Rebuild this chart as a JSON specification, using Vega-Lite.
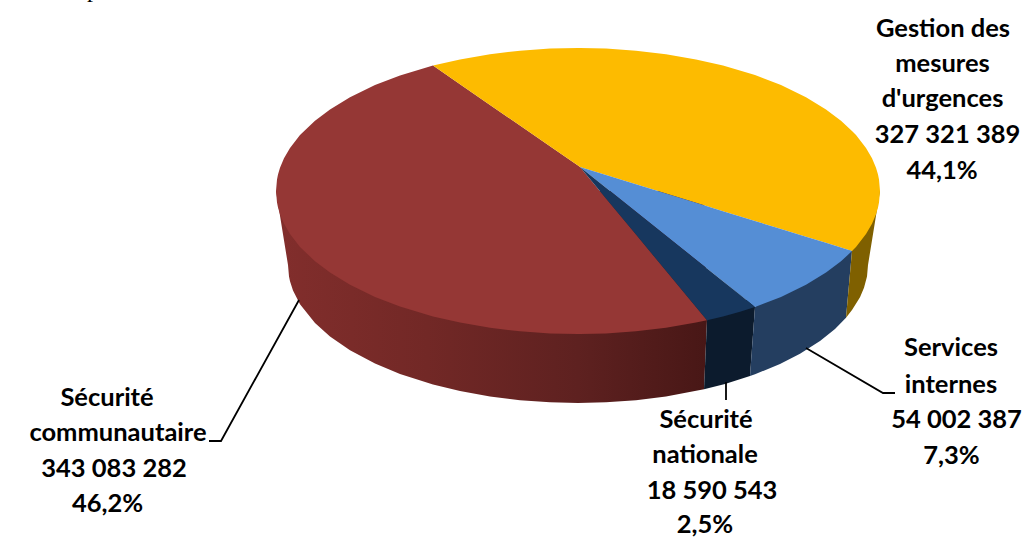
{"$schema":"https://vega.github.io/schema/vega-lite/v6.json","autosize":{"type":"none"},"padding":0,"width":1026,"height":538,"background":"white","view":{"stroke":null},
"datasets":{
"redSide":[{"x":276,"y":191,"y2":191},{"x":288,"y":191,"y2":265},{"x":289,"y":191,"y2":276.4},{"x":290,"y":191,"y2":281.2},{"x":293,"y":191,"y2":290.5},{"x":300,"y":191,"y2":304.3},{"x":315,"y":191,"y2":323.1},{"x":330,"y":191,"y2":336.5},{"x":350,"y":191,"y2":350.3},{"x":375,"y":191,"y2":363.5},{"x":400,"y":191,"y2":373.9},{"x":433,"y":191,"y2":384.5},{"x":460,"y":191,"y2":391},{"x":490,"y":191,"y2":396.5},{"x":520,"y":191,"y2":400.2},{"x":550,"y":191,"y2":402.3},{"x":578,"y":191,"y2":403},{"x":606,"y":191,"y2":402.3},{"x":636,"y":191,"y2":400.2},{"x":666,"y":191,"y2":396.5},{"x":704,"y":191,"y2":389.3},{"x":707,"y":320,"y2":320}],
"navySide":[{"x":704,"y":389.3,"y2":389.3},{"x":707,"y":320.3,"y2":388.6},{"x":725,"y":300,"y2":384},{"x":750,"y":300,"y2":376},{"x":755,"y":306.9,"y2":306.9}],
"blueSide":[{"x":750,"y":376,"y2":376},{"x":755,"y":306.9,"y2":374.3},{"x":780,"y":280,"y2":363.9},{"x":800,"y":270,"y2":353.8},{"x":820,"y":260,"y2":341},{"x":835,"y":255,"y2":328.9},{"x":846,"y":250,"y2":317.7},{"x":852,"y":251,"y2":251}],
"yellowSide":[{"x":846,"y":317.7,"y2":317.7},{"x":852,"y":251,"y2":310},{"x":860,"y":200,"y2":297.3},{"x":864,"y":191,"y2":287.8},{"x":867,"y":191,"y2":276.4},{"x":868,"y":191,"y2":265},{"x":880,"y":191,"y2":191}],
"redTop":[{"x":276,"y":191,"y2":191},{"x":277,"y":179.4,"y2":202.6},{"x":278,"y":174.6,"y2":207.4},{"x":280,"y":167.8,"y2":214.2},{"x":284,"y":158.3,"y2":223.7},{"x":290,"y":148,"y2":234},{"x":300,"y":135.1,"y2":246.9},{"x":315,"y":120.7,"y2":261.3},{"x":330,"y":109.4,"y2":272.6},{"x":350,"y":97.2,"y2":284.8},{"x":375,"y":85.1,"y2":296.9},{"x":400,"y":75.5,"y2":306.5},{"x":433,"y":65.6,"y2":316.4},{"x":460,"y":84.2,"y2":322.6},{"x":490,"y":104.9,"y2":327.8},{"x":520,"y":125.6,"y2":331.3},{"x":550,"y":146.3,"y2":333.4},{"x":578,"y":165.6,"y2":334},{"x":580,"y":167,"y2":334},{"x":606,"y":198.4,"y2":333.4},{"x":636,"y":234.6,"y2":331.3},{"x":666,"y":270.8,"y2":327.8},{"x":696,"y":307,"y2":322.6},{"x":707,"y":320.3,"y2":320.3}],
"yellowTop":[{"x":433,"y":65.6,"y2":65.6},{"x":460,"y":59.4,"y2":84.2},{"x":490,"y":54.2,"y2":104.9},{"x":520,"y":50.7,"y2":125.6},{"x":550,"y":48.6,"y2":146.3},{"x":578,"y":48,"y2":165.6},{"x":580,"y":48,"y2":167},{"x":606,"y":48.6,"y2":175},{"x":636,"y":50.7,"y2":184.3},{"x":666,"y":54.2,"y2":193.6},{"x":696,"y":59.4,"y2":202.8},{"x":723,"y":65.6,"y2":211.2},{"x":755,"y":75.1,"y2":221},{"x":781,"y":85.1,"y2":229},{"x":806,"y":97.2,"y2":236.7},{"x":826,"y":109.4,"y2":242.8},{"x":841,"y":120.7,"y2":247.6},{"x":852,"y":130.9,"y2":251.1},{"x":856,"y":135.1,"y2":246.9},{"x":866,"y":148,"y2":234},{"x":872,"y":158.3,"y2":223.7},{"x":876,"y":167.8,"y2":214.2},{"x":878,"y":174.6,"y2":207.4},{"x":879,"y":179.4,"y2":202.6},{"x":880,"y":191,"y2":191}],
"blueTop":[{"x":580,"y":167,"y2":167},{"x":606,"y":175,"y2":187.8},{"x":636,"y":184.3,"y2":211.7},{"x":666,"y":193.6,"y2":235.7},{"x":696,"y":202.8,"y2":259.7},{"x":723,"y":211.2,"y2":281.3},{"x":755,"y":221,"y2":306.9},{"x":781,"y":229,"y2":296.9},{"x":806,"y":236.7,"y2":284.8},{"x":826,"y":242.8,"y2":272.6},{"x":841,"y":247.6,"y2":261.3},{"x":852,"y":251.1,"y2":251.1}],
"navyTop":[{"x":580,"y":167,"y2":167},{"x":606,"y":187.8,"y2":198.4},{"x":636,"y":211.7,"y2":234.6},{"x":666,"y":235.7,"y2":270.8},{"x":696,"y":259.7,"y2":307},{"x":707,"y":268.5,"y2":320.3},{"x":723,"y":281.3,"y2":316.4},{"x":740,"y":294.8,"y2":311.7},{"x":755,"y":306.9,"y2":306.9}],
"leaders":[{"leader":"a","o":1,"x":299,"y":300},{"leader":"a","o":2,"x":221,"y":441},{"leader":"a","o":3,"x":209,"y":441},{"leader":"b","o":1,"x":806,"y":348},{"leader":"b","o":2,"x":883,"y":393},{"leader":"b","o":3,"x":895,"y":393},{"leader":"c","o":1,"x":726,"y":382},{"leader":"c","o":2,"x":726,"y":400}],
"labels":[{"t":"Gestion des","x":943,"y":37},{"t":"mesures","x":942.5,"y":72},{"t":"d'urgences","x":942.5,"y":107},{"t":"327 321 389","x":947.5,"y":143},{"t":"44,1%","x":942,"y":179},{"t":"Services","x":951,"y":356},{"t":"internes","x":951,"y":393},{"t":"54 002 387","x":956.5,"y":428},{"t":"7,3%","x":951.5,"y":464},{"t":"Sécurité","x":107,"y":406},{"t":"communautaire","x":118,"y":441},{"t":"343 083 282","x":114,"y":477},{"t":"46,2%","x":107.5,"y":512},{"t":"Sécurité","x":706,"y":428},{"t":"nationale","x":705,"y":463},{"t":"18 590 543","x":712,"y":499},{"t":"2,5%","x":705,"y":533}],
"clipped":[{"t":"p","x":93,"y":-3}]
},
"encoding":{"x":{"field":"x","type":"quantitative","scale":{"domain":[0,1026],"nice":false,"zero":false},"axis":null},"y":{"field":"y","type":"quantitative","scale":{"domain":[538,0],"nice":false,"zero":false},"axis":null}},
"layer":[
{"data":{"name":"redSide"},"mark":{"type":"area","fill":{"gradient":"linear","x1":0,"y1":0,"x2":1,"y2":0,"stops":[{"offset":0,"color":"#822e2c"},{"offset":0.35,"color":"#722826"},{"offset":0.7,"color":"#5e2120"},{"offset":1,"color":"#481716"}]}},"encoding":{"y2":{"field":"y2"}}},
{"data":{"name":"navySide"},"mark":{"type":"area","fill":"#0c1b2d"},"encoding":{"y2":{"field":"y2"}}},
{"data":{"name":"blueSide"},"mark":{"type":"area","fill":"#243e60"},"encoding":{"y2":{"field":"y2"}}},
{"data":{"name":"yellowSide"},"mark":{"type":"area","fill":"#7f6000"},"encoding":{"y2":{"field":"y2"}}},
{"data":{"name":"redTop"},"mark":{"type":"area","fill":"#953735"},"encoding":{"y2":{"field":"y2"}}},
{"data":{"name":"yellowTop"},"mark":{"type":"area","fill":"#fdbb00"},"encoding":{"y2":{"field":"y2"}}},
{"data":{"name":"blueTop"},"mark":{"type":"area","fill":"#558ed5"},"encoding":{"y2":{"field":"y2"}}},
{"data":{"name":"navyTop"},"mark":{"type":"area","fill":"#17375e"},"encoding":{"y2":{"field":"y2"}}},
{"data":{"name":"leaders"},"mark":{"type":"line","color":"#000000","strokeWidth":1.8},"encoding":{"detail":{"field":"leader"},"order":{"field":"o"}}},
{"data":{"name":"labels"},"mark":{"type":"text","font":"Lato","fontWeight":"bold","fontSize":25.5,"color":"#000000","align":"center","baseline":"alphabetic"},"encoding":{"text":{"field":"t"}}},
{"data":{"name":"clipped"},"mark":{"type":"text","font":"Liberation Serif","fontSize":24,"color":"#000000","align":"center","baseline":"alphabetic"},"encoding":{"text":{"field":"t"}}}
]}
